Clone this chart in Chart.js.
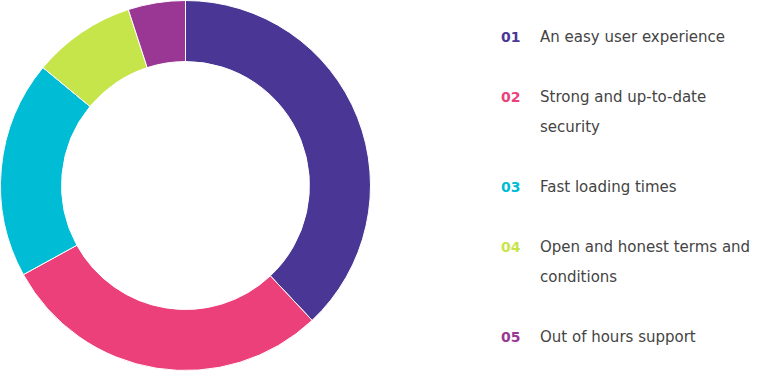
<!DOCTYPE html>
<html>
<head>
<meta charset="utf-8">
<script src="https://cdn.jsdelivr.net/npm/chart.js@4"></script>
<style>
    html, body { margin: 0; padding: 0; background: #fff; }
    body { width: 771px; height: 371px; position: relative; overflow: hidden; font-family: "DejaVu Sans", sans-serif; }
    #chartBox { position: absolute; left: 0; top: 0; width: 371px; height: 371px; }
    #legend { position: absolute; left: 501px; top: 22px; width: 270px; }
    .row { display: flex; margin-bottom: 30px; line-height: 30px; font-size: 15px; }
    .num { width: 39px; font-weight: 700; font-size: 14px; }
    .txt { color: #444; }
</style>
</head>
<body>
<div id="chartBox"><canvas id="donut"></canvas></div>
<div id="legend"></div>
<script>
// datos del gráfico
const categories = [
    ["An easy user experience"],
    ["Strong and up-to-date", "security"],
    ["Fast loading times"],
    ["Open and honest terms and", "conditions"],
    ["Out of hours support"]
];
const numbers = ["01", "02", "03", "04", "05"];
const values = [38, 29, 19, 9, 5];
const colors = ["#4A3795", "#EC407A", "#00BCD4", "#C6E54B", "#9A3794"];

// leyenda en HTML
const legendEl = document.getElementById("legend");
categories.forEach(function (lines, i) {
    const row = document.createElement("div");
    row.className = "row";
    const num = document.createElement("div");
    num.className = "num";
    num.style.color = colors[i];
    num.textContent = numbers[i];
    const txt = document.createElement("div");
    txt.className = "txt";
    txt.innerHTML = lines.join("<br>");
    row.appendChild(num);
    row.appendChild(txt);
    legendEl.appendChild(row);
});

new Chart(document.getElementById("donut").getContext("2d"), {
    type: "doughnut",
    data: {
        labels: categories.map(function (l) { return l.join(" "); }),
        datasets: [{
            data: values,
            backgroundColor: colors,
            borderColor: "#fff",
            borderWidth: 1,
            hoverOffset: 0
        }]
    },
    options: {
        responsive: true,
        maintainAspectRatio: false,
        animation: false,
        cutout: "67%",
        layout: { padding: 0 },
        plugins: {
            legend: { display: false },
            tooltip: { enabled: false }
        }
    }
});
</script>
</body>
</html>
